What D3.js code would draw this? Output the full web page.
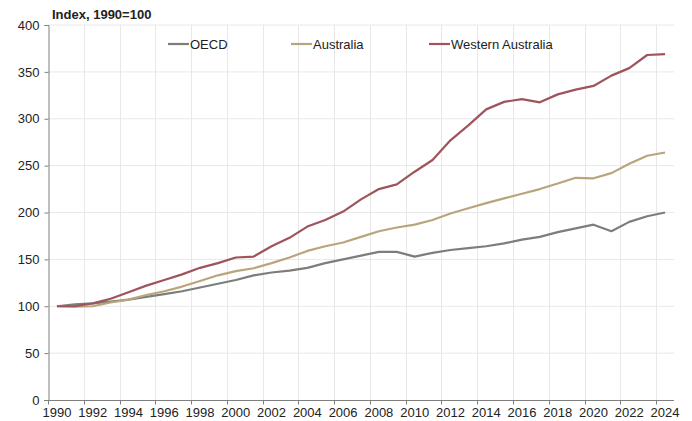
<!DOCTYPE html>
<html>
<head>
<meta charset="utf-8">
<title>Index, 1990=100</title>
<script src="https://cdn.jsdelivr.net/npm/d3@7"></script>
<style>
  body { margin: 0; background: #fff; }
  svg { display: block; font-family: "Liberation Sans", Arial, sans-serif; }
</style>
</head>
<body>
<div id="chart"></div>
<script>
var years = [];
for (var y = 1990; y <= 2024; y++) years.push(y);

var oecd = [100, 102, 103, 105, 107, 110, 113, 116, 120, 124, 128, 133, 136, 138, 141, 146, 150, 154, 158, 158,
            153, 157, 160, 162, 164, 167, 171, 174, 179, 183, 187, 180, 190, 196, 200];
var australia = [100, 99.5, 100, 104, 107, 112, 116, 121, 127, 133, 137.5, 140.5, 146, 152, 159, 164, 168, 174, 180, 184,
                 187, 192, 199, 204.5, 210, 215, 220, 225, 231, 237, 236.5, 242, 252, 260.5, 264];
var westernAustralia = [100, 100, 103, 108, 115, 122, 128, 134, 141, 146, 152, 153, 164, 173, 185, 192, 201, 214, 225, 230,
                        243.5, 256, 277, 293, 310, 318, 321, 317.5, 326, 331, 335, 346, 354, 368, 369];
var seriesNames = ["OECD", "Australia", "Western Australia"];
var seriesColors = ["#7b7f78", "#b9a57c", "#9e545a"];
var yTicks = [0, 50, 100, 150, 200, 250, 300, 350, 400];

var width = 692, height = 421;
var margin = {top: 25, right: 18, bottom: 21, left: 48};

var svg = d3.select("#chart").append("svg")
  .attr("width", width)
  .attr("height", height);

var x = d3.scaleBand().domain(years).range([margin.left, width - margin.right]);
var yScale = d3.scaleLinear().domain([0, 400]).range([height - margin.bottom, margin.top]);

// horizontal gridlines
svg.append("g").selectAll("line")
  .data(yTicks.slice(1))
  .enter().append("line")
  .attr("x1", margin.left).attr("x2", width - margin.right)
  .attr("y1", function(d){ return yScale(d); })
  .attr("y2", function(d){ return yScale(d); })
  .attr("stroke", "#e8e8e8").attr("stroke-width", 1);

// vertical gridlines, at the left edge of every even year
var evenYears = years.filter(function(d){ return d % 2 === 0; });
svg.append("g").selectAll("line")
  .data(evenYears.slice(1))
  .enter().append("line")
  .attr("x1", function(d){ return Math.round(x(d)) + 0.5; })
  .attr("x2", function(d){ return Math.round(x(d)) + 0.5; })
  .attr("y1", margin.top).attr("y2", yScale(0))
  .attr("stroke", "#e8e8e8").attr("stroke-width", 1);

// y axis
var yAxis = d3.axisLeft(yScale).tickValues(yTicks).tickSize(4).tickPadding(5);
var gy = svg.append("g")
  .attr("transform", "translate(" + (margin.left + 0.5) + ",0)")
  .call(yAxis);
gy.select(".domain").attr("stroke", "#7f7f7f");
gy.selectAll(".tick line").attr("stroke", "#7f7f7f");
gy.selectAll("text").attr("font-size", 13).attr("fill", "#222")
  .attr("font-family", "Liberation Sans, Arial, sans-serif");

// x axis: ticks on category boundaries, labels on even years
var gx = svg.append("g")
  .attr("transform", "translate(0," + (yScale(0) + 0.5) + ")");
gx.append("line")
  .attr("x1", margin.left - 4).attr("x2", width - margin.right)
  .attr("stroke", "#7f7f7f");
gx.selectAll(".xtick")
  .data(evenYears)
  .enter().append("line")
  .attr("class", "xtick")
  .attr("x1", function(d){ return Math.round(x(d)) + 0.5; })
  .attr("x2", function(d){ return Math.round(x(d)) + 0.5; })
  .attr("y1", 0).attr("y2", 4)
  .attr("stroke", "#7f7f7f");
gx.selectAll(".xlabel")
  .data(evenYears)
  .enter().append("text")
  .attr("class", "xlabel")
  .attr("x", function(d){ return x(d) + x.bandwidth() / 2; })
  .attr("y", 16)
  .attr("text-anchor", "middle")
  .attr("font-size", 13).attr("fill", "#222")
  .text(function(d){ return d; });

// lines
var allSeries = [oecd, australia, westernAustralia];
var line = d3.line()
  .x(function(d, i){ return x(years[i]) + x.bandwidth() / 2; })
  .y(function(d){ return yScale(d); });
svg.append("g").selectAll("path")
  .data(allSeries)
  .enter().append("path")
  .attr("d", line)
  .attr("fill", "none")
  .attr("stroke", function(d, i){ return seriesColors[i]; })
  .attr("stroke-width", 2.2)
  .attr("stroke-linejoin", "round");

// title
svg.append("text")
  .attr("x", 52).attr("y", 19)
  .attr("font-size", 13).attr("font-weight", "bold").attr("fill", "#222")
  .text("Index, 1990=100");

// legend
var legendX = [168, 291, 429];
var legend = svg.append("g").selectAll("g")
  .data(seriesNames)
  .enter().append("g")
  .attr("transform", function(d, i){ return "translate(" + legendX[i] + ",44)"; });
legend.append("line")
  .attr("x1", 0).attr("x2", 21)
  .attr("stroke", function(d, i){ return seriesColors[i]; })
  .attr("stroke-width", 2.2);
legend.append("text")
  .attr("x", 22).attr("y", 4.5)
  .attr("font-size", 13).attr("fill", "#222")
  .text(function(d){ return d; });
</script>
</body>
</html>
